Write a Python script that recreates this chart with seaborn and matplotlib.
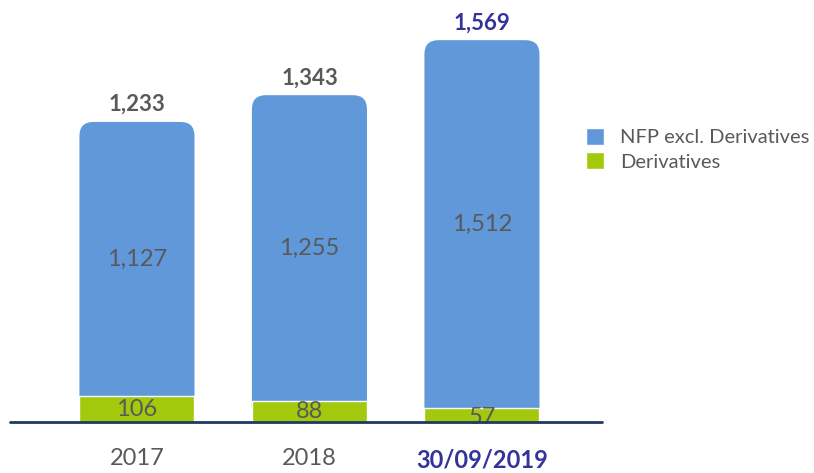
import numpy as np
import pandas as pd
import matplotlib
matplotlib.use("Agg")
import matplotlib.pyplot as plt
import seaborn as sns
from matplotlib.patches import FancyBboxPatch, Patch

# data
periods = ["2017", "2018", "30/09/2019"]
nfp_excl = [1127, 1255, 1512]
derivatives = [106, 88, 57]
totals = [1233, 1343, 1569]

BLUE = "#6098DA"
GREEN = "#A2C90B"
GREY = "#595959"
INDIGO = "#33339A"
NAVY = "#1F3864"

sns.set_theme(style="white")
plt.rcParams['font.family'] = ['Lato', 'DejaVu Sans']

df = pd.DataFrame({"period": periods, "total": totals, "deriv": derivatives, "nfp": nfp_excl})

fig = plt.figure(figsize=(8.14, 4.73), dpi=100)
ax = fig.add_axes([10 / 814, 51 / 473, 592 / 814, 412 / 473])

sns.barplot(data=df, x="period", y="total", color=BLUE, width=0.667, saturation=1, ax=ax)
sns.barplot(data=df, x="period", y="deriv", color=GREEN, width=0.667, saturation=1, ax=ax)

ax.set_xlim(-0.736, 2.696)
ax.set_ylim(0, 1693)

# rounded tops for the blue bars
fig.canvas.draw()
bbox = ax.get_window_extent()
px_x = bbox.width / (ax.get_xlim()[1] - ax.get_xlim()[0])
px_y = bbox.height / (ax.get_ylim()[1] - ax.get_ylim()[0])
aspect = px_x / px_y
blue_bars = list(ax.patches[:3])
for p in blue_bars:
    x, y, w, h = p.get_x(), p.get_y(), p.get_width(), p.get_height()
    p.remove()
    r = 14 / px_x
    fb = FancyBboxPatch((x, y), w, h, boxstyle=f"round,pad=0,rounding_size={r}",
                        mutation_aspect=aspect, facecolor=BLUE, edgecolor="none", zorder=1)
    ax.add_patch(fb)
for p in ax.patches:
    if p.get_facecolor()[:3] == matplotlib.colors.to_rgb(GREEN):
        p.set_zorder(2)

# labels
for i in range(len(periods)):
    c = INDIGO if i == 2 else GREY
    ax.annotate(f"{totals[i]:,}", (i, totals[i]), xytext=(0, 5), textcoords="offset points",
                ha="center", va="bottom", fontsize=16, fontweight="bold", color=c)
    ax.text(i, derivatives[i] + nfp_excl[i] / 2, f"{nfp_excl[i]:,}", ha="center", va="center",
            fontsize=17, color=GREY, zorder=3)
    ax.text(i, derivatives[i] / 2 - (10 if derivatives[i] < 80 else 0), f"{derivatives[i]:,}",
            ha="center", va="center", fontsize=17, color=GREY, zorder=3)

ax.axhline(0, color=NAVY, linewidth=2, zorder=4, clip_on=False)

ax.set_xlabel("")
ax.set_ylabel("")
ax.set_yticks([])
ax.tick_params(axis="x", length=0, pad=19)
for i, lab in enumerate(ax.get_xticklabels()):
    lab.set_fontsize(17)
    if i == 2:
        lab.set_color(INDIGO)
        lab.set_fontweight("bold")
    else:
        lab.set_color(GREY)
sns.despine(ax=ax, left=True, bottom=True)

handles = [Patch(facecolor=BLUE, label="NFP excl. Derivatives"),
           Patch(facecolor=GREEN, label="Derivatives")]
leg = fig.legend(handles=handles, loc="upper left", bbox_to_anchor=(568 / 814, 1 - 110 / 473),
                 frameon=False, fontsize=14.5, handlelength=0.9, handleheight=0.9,
                 handletextpad=0.8, labelspacing=0.3)
for t in leg.get_texts():
    t.set_color(GREY)

fig.savefig("out.png", dpi=100)
